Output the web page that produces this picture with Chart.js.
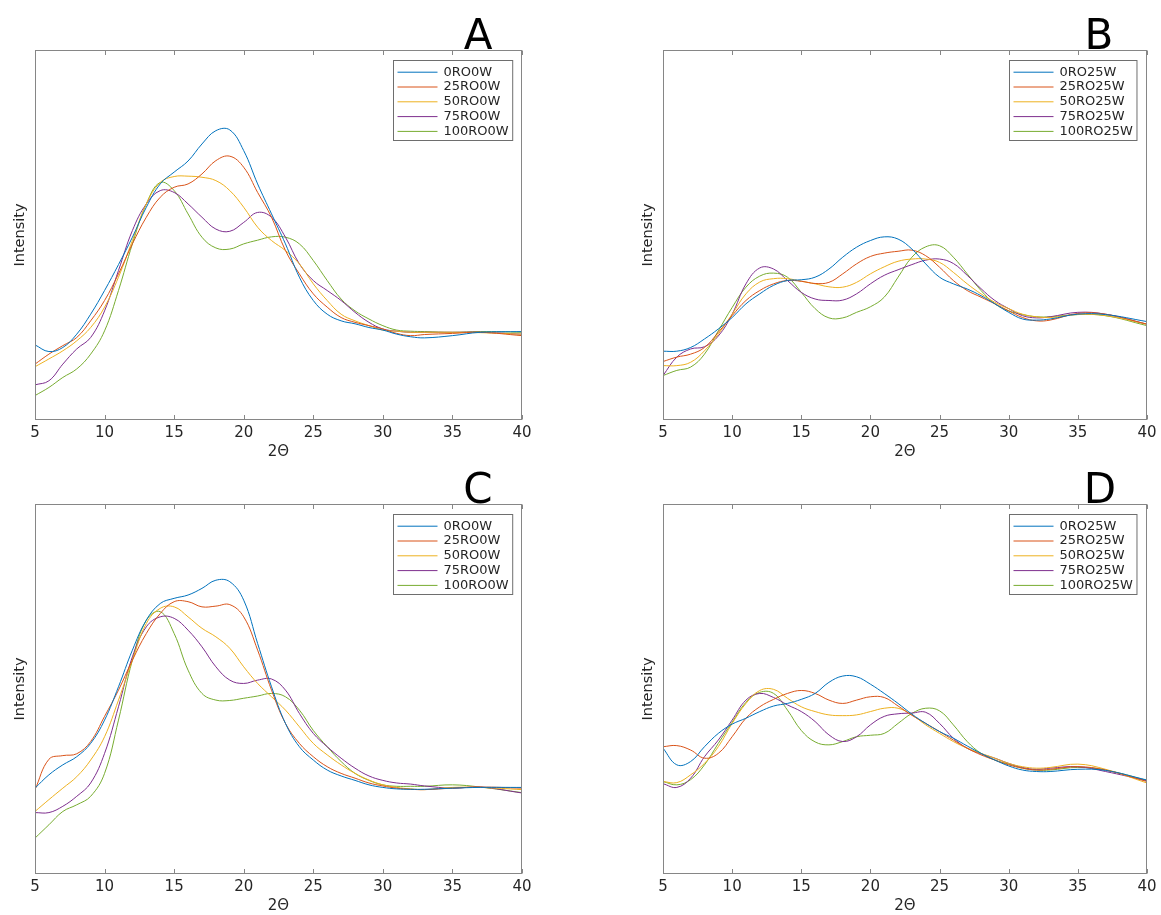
<!DOCTYPE html>
<html><head><meta charset="utf-8">
<script src="https://cdn.jsdelivr.net/npm/chart.js@4.4.1/dist/chart.umd.min.js"></script>
<style>
html,body{margin:0;padding:0;background:#fff;}
body{width:1161px;height:915px;position:relative;overflow:hidden;}
canvas{position:absolute;display:block;}
</style></head><body>
<canvas id="cA" width="580" height="462" style="left:0;top:0;width:580px;height:462px"></canvas>
<canvas id="cB" width="533" height="462" style="left:628px;top:0;width:533px;height:462px"></canvas>
<canvas id="cC" width="580" height="460" style="left:0;top:455px;width:580px;height:460px"></canvas>
<canvas id="cD" width="533" height="460" style="left:628px;top:455px;width:533px;height:460px"></canvas>
<script>
// ---- data (intensity, arbitrary units, 0 = bottom of axes, 100 = top) ----
const twoTheta = [5,6,7,8,9,10,11,12,13,14,15,16,17,18,19,20,21,22,23,24,25,26,27,28,29,30,31,32,33,35,37,40];
const xTicks = [5,10,15,20,25,30,35,40];
const labelsRO0W = ['0RO0W','25RO0W','50RO0W','75RO0W','100RO0W'];
const labelsRO25W = ['0RO25W','25RO25W','50RO25W','75RO25W','100RO25W'];
const panelLetters = ['A','B','C','D'];

const A_0RO0W   = [20.3,18.5,19.6,23.2,28.6,35,42,49.4,57.5,63.8,67,70,74.6,78.2,78.4,72.8,63.8,55.7,47.6,38.6,32.3,28.6,26.8,26,25,24.3,23.2,22.5,22.2,22.8,23.7,23.9];
const A_25RO0W  = [15.1,17.8,20.1,22.3,26.8,32.3,39.5,47.6,54.8,60.2,62.9,63.8,66.5,70.1,71.3,68.3,61.5,54.8,45.8,39.5,34.1,30.5,27.7,26.4,25.5,24.6,23.4,22.8,23.1,23.4,23.7,22.8];
const A_50RO0W  = [14.4,16.5,18.7,21.4,25,30.5,38.6,48.5,58.4,64.2,65.8,65.9,65.6,64.7,62,57.5,52.1,48.5,45.8,42.2,36.8,32.3,28.6,26.8,25.5,24.3,24,23.7,23.7,23.7,23.6,23.2];
const A_75RO0W  = [9.5,10.6,15.1,19.2,22.3,29.5,40.4,51.2,58.4,62,61.5,58.4,54.8,51.6,51,53.4,56.1,54.8,49.4,42.2,37.7,35,32.3,29.1,26.4,24.6,24,23.7,23.7,23.7,23.7,23.2];
const A_100RO0W = [6.6,8.8,11.5,13.8,17.8,24.1,35,47.6,58.4,64.2,62,55.7,49.4,46.5,46.2,47.6,48.6,49.5,49.4,47.6,43.1,37.7,32.7,29.5,27.3,25.5,24.3,24,23.9,23.7,23.9,23.7];

const B_0RO25W   = [18.6,18.6,19.6,21.9,24.6,27.7,31.4,34.1,36.4,37.7,37.9,38.6,40.8,44,46.7,48.5,49.5,48.9,46.2,42.2,38.6,36.8,35.4,33.6,31.4,29.1,27.3,27,27.3,28.6,28.5,26.6];
const B_25RO25W  = [15.8,17,17.8,19.6,23.7,28.2,32.3,35,36.8,37.7,37.5,36.9,37.2,39.5,42.2,44.2,45.1,45.6,45.9,44.4,41.3,37.7,35,33.2,31.4,29.5,27.7,26.8,27,28.8,28.6,25.9];
const B_50RO25W  = [14.7,14.7,15.6,18.7,23.2,28.6,34.1,37.3,38.2,38.2,37.5,36.8,36,35.9,37.2,39.5,41.4,42.9,43.5,43.5,42.6,39.9,36.8,34.1,31.8,30.1,28.6,27.9,27.7,28.5,28.2,25.9];
const B_75RO25W  = [12,17,19.2,19.8,22.7,28.6,36.8,41.1,40.8,37.7,34.5,32.7,32.3,32.4,34.1,36.8,39.1,40.6,42,43.2,43.5,42.3,39.1,35.5,32.3,30.1,28.2,27.6,27.9,29.1,28.6,25.9];
const B_100RO25W = [12,13.4,14.3,17.8,24.1,30.4,35.9,38.9,39.7,38.6,34.5,30.1,27.6,27.6,29.1,30.6,33.2,38.6,44,46.8,47.1,44,39.5,35,31.4,29.5,28.5,27.9,27.9,28.5,28.2,25.5];

const C_0RO0W   = [23.2,26.8,29.5,31.7,35.3,41.6,50.6,60.5,68.6,73.1,74.5,75.4,77.2,79.4,79,74,62.3,50.6,40.7,34.4,30.8,28.1,26.5,25.3,24.1,23.4,23,22.9,22.9,23.2,23.4,23.4];
const C_25RO0W  = [22.8,31,32,32.5,35.8,42.6,49.7,57.8,65,70.4,73.6,73.6,72.2,72.4,72.8,69.5,60.5,49.7,40.7,35.3,31.7,29,27.2,25.9,24.6,23.8,23.2,22.9,22.8,23.2,23.5,23.2];
const C_50RO0W  = [16.9,20.1,23.2,26.3,30.8,37.1,47,57.8,67.7,71.8,72.2,69.5,66.4,64.1,61,56,51.5,47.9,44.3,39.8,35.3,32.2,29.5,27.2,25.4,24.1,23.4,23,22.8,23.4,23.4,22.8];
const C_75RO0W  = [16.6,16.6,18.3,21,24.6,32.6,45.2,58.7,66.8,69.5,69.1,65.9,61.4,56,52.4,51.5,52.4,52.7,49.7,43.4,38,34.4,31.3,28.6,26.5,25.3,24.6,24.3,23.8,23.2,23.5,21.9];
const C_100RO0W = [9.7,13.3,16.9,18.7,21,27.2,41.6,57.8,68.6,70.9,65,55.1,48.8,47,46.9,47.5,48.1,48.8,47.9,44.3,38.8,34.4,30.4,27.2,25.3,24.1,23.7,23.7,23.7,24.1,23.5,22];

const D_0RO25W   = [34,29.5,30.4,34.4,38,40.5,42.1,43.9,45.4,46.1,47.2,48.8,51.8,53.5,53.3,51.3,48.8,46.1,43.2,40.7,38.5,36.7,34.6,32.6,30.8,29.2,28.1,27.7,27.7,28.3,28,25.4];
const D_25RO25W  = [34.4,34.7,33.5,31.3,32.6,37.1,42.1,45.2,47.2,48.8,49.6,48.8,47,46.1,47,47.9,47.7,45.4,42.9,40.7,38.5,36.2,34,32.2,30.8,29.5,28.6,28.1,28.3,29,28.1,25];
const D_50RO25W  = [25,24.7,26.8,29.9,34.4,40.7,46.1,49.6,49.9,47.5,45.2,43.9,43,42.8,43,43.9,44.8,44.8,43,40.3,38,35.8,34,32.6,31.3,29.9,29,28.6,28.8,29.7,28.3,24.6];
const D_75RO25W  = [24.4,23.4,25.9,31.7,36.2,41.6,47,48.8,47.7,45.7,43.9,41.2,37.6,35.8,37.1,40.3,42.6,43.3,43.5,43.7,40.7,36.7,34,32.5,31.3,29.9,28.8,28.3,28.6,29,27.7,25.2];
const D_100RO25W = [25,24.1,25.5,29.5,35.3,41,46.4,49.1,48.8,44.3,38.8,35.7,34.9,35.8,37.1,37.5,38,40.7,43.4,44.8,44.1,40.3,35.8,32.6,30.8,29.7,28.6,28.1,28.1,28.8,28.1,25.3];

const seriesColors = ['#0072BD','#D95319','#EDB120','#7E2F8E','#77AC30'];

// ---- drawing ----
Chart.defaults.font.family = '"DejaVu Sans", sans-serif';

const framePlugin = {
  id: 'matlabFrame',
  afterDraw(chart, args, opts) {
    const ctx = chart.ctx, a = chart.chartArea, x = chart.scales.x;
    ctx.save();
    const L = Math.round(a.left) + 0.5, R = Math.round(a.right) - 0.5;
    const T = Math.round(a.top) + 0.5, B = Math.round(a.bottom) - 0.5;
    ctx.strokeStyle = '#868686';
    ctx.lineWidth = 1;
    ctx.strokeRect(L, T, R - L, B - T);
    ctx.beginPath();
    xTicks.forEach(v => {
      const px = Math.round(x.getPixelForValue(v)) + 0.5;
      ctx.moveTo(px, B); ctx.lineTo(px, B - 4.5);
      ctx.moveTo(px, T); ctx.lineTo(px, T + 4.5);
    });
    ctx.stroke();

    // legend box inside the axes (north-east)
    const ds = chart.data.datasets;
    ctx.font = '13px "DejaVu Sans"';
    let maxW = 0;
    ds.forEach(d => { maxW = Math.max(maxW, ctx.measureText(d.label).width); });
    const bw = 4 + 40 + 6 + maxW + 4, bh = 80;
    const bx = Math.round(a.right - 10 - bw) + 0.5, by = Math.round(a.top + 10) + 0.5;
    ctx.fillStyle = '#ffffff';
    ctx.fillRect(bx, by, bw, bh);
    ctx.strokeStyle = '#6e6e6e';
    ctx.strokeRect(bx, by, bw, bh);
    ctx.textBaseline = 'middle';
    ctx.textAlign = 'left';
    ds.forEach((d, i) => {
      const yy = by + 11.7 + i * 14.8;
      ctx.strokeStyle = d.borderColor;
      ctx.lineWidth = 1;
      ctx.beginPath();
      ctx.moveTo(bx + 4, yy); ctx.lineTo(bx + 44, yy);
      ctx.stroke();
      ctx.fillStyle = '#262626';
      ctx.fillText(d.label, bx + 50, yy);
    });

    // panel letter
    ctx.font = '42px "DejaVu Sans"';
    ctx.fillStyle = '#000';
    ctx.textAlign = 'center';
    ctx.textBaseline = 'alphabetic';
    ctx.fillText(opts.letter, a.right - opts.letterDx, a.top - 1.5);
    ctx.restore();
  }
};

function makeChart(canvasId, letter, labels, seriesList, padRight, padBottom, padTop, letterDx) {
  const datasets = seriesList.map((arr, i) => ({
    label: labels[i],
    data: twoTheta.map((xv, j) => ({x: xv, y: arr[j]})),
    borderColor: seriesColors[i],
    backgroundColor: seriesColors[i],
    borderWidth: 1,
    pointRadius: 0,
    tension: 0.4,
    fill: false
  }));
  return new Chart(document.getElementById(canvasId), {
    type: 'line',
    data: { datasets },
    plugins: [framePlugin],
    options: {
      responsive: false,
      animation: false,
      events: [],
      layout: { padding: { left: 0, right: padRight, top: padTop, bottom: padBottom } },
      plugins: {
        legend: { display: false },
        tooltip: { enabled: false },
        matlabFrame: { letter, letterDx }
      },
      scales: {
        x: {
          type: 'linear', min: 5, max: 40,
          afterBuildTicks: s => { s.ticks = xTicks.map(v => ({value: v})); },
          afterFit: s => { s.height = 41; },
          grid: { display: false, drawTicks: false },
          border: { display: false },
          ticks: { padding: 4.5, color: '#262626', font: { size: 15 }, maxRotation: 0, autoSkip: false },
          title: { display: true, text: '2\u0398', color: '#262626', font: { size: 15 }, padding: { top: 0, bottom: 0 } }
        },
        y: {
          type: 'linear', min: 0, max: 100,
          afterFit: s => { s.width = 35; },
          grid: { display: false, drawTicks: false },
          border: { display: false },
          ticks: { display: false },
          title: { display: true, text: 'Intensity', color: '#262626', font: { size: 14.5 }, padding: { top: 12, bottom: 0 } }
        }
      }
    }
  });
}

makeChart('cA', panelLetters[0], labelsRO0W, [A_0RO0W, A_25RO0W, A_50RO0W, A_75RO0W, A_100RO0W], 58, 1, 50, 44);
makeChart('cB', panelLetters[1], labelsRO25W, [B_0RO25W, B_25RO25W, B_50RO25W, B_75RO25W, B_100RO25W], 10, 1, 50, 48);
makeChart('cC', panelLetters[2], labelsRO0W, [C_0RO0W, C_25RO0W, C_50RO0W, C_75RO0W, C_100RO0W], 58, 0, 49, 44);
makeChart('cD', panelLetters[3], labelsRO25W, [D_0RO25W, D_25RO25W, D_50RO25W, D_75RO25W, D_100RO25W], 10, 0, 49, 47);
</script>
</body></html>
